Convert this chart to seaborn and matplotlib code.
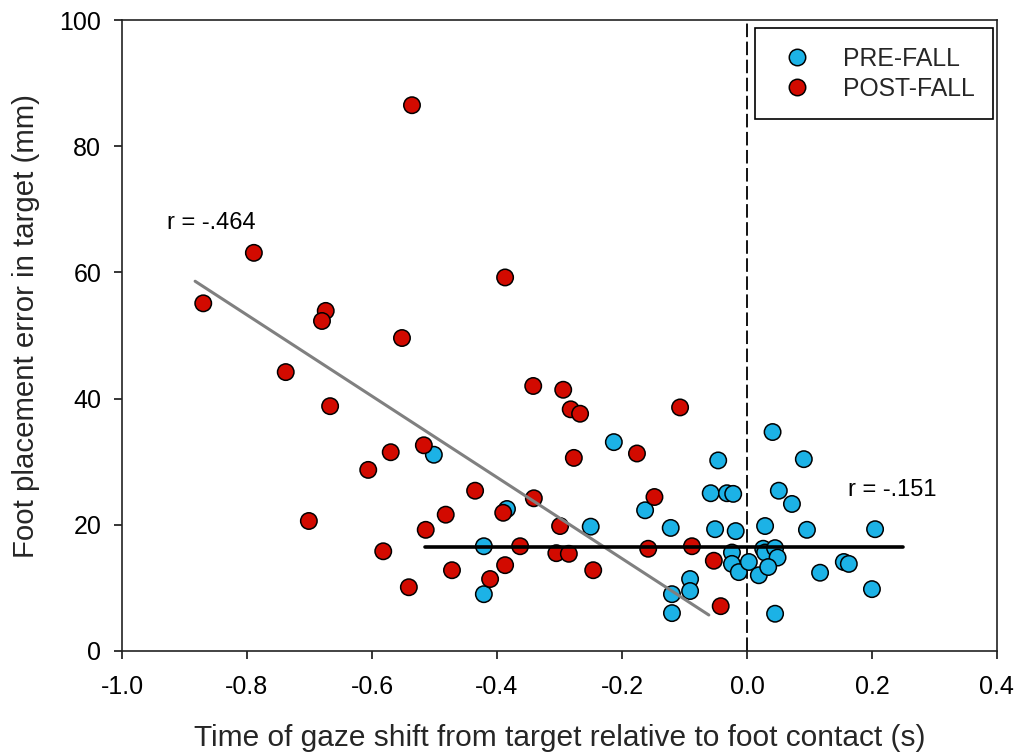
import numpy as np
import pandas as pd
import matplotlib
matplotlib.use("Agg")
import matplotlib.pyplot as plt
import seaborn as sns

# ---- data ----
pre_x = [-0.501, -0.384, -0.421, -0.421, -0.213, -0.046, 0.041, 0.091, -0.163, -0.058,
         -0.032, -0.022, 0.051, 0.072, -0.250, -0.122, -0.051, -0.018, 0.029, 0.096,
         0.205, -0.024, -0.024, -0.013, 0.003, 0.019, 0.026, 0.029, 0.045, 0.049,
         0.034, 0.117, 0.155, 0.163, 0.200, -0.091, -0.091, -0.120, -0.120, 0.045]
pre_y = [31.1, 22.5, 16.6, 9.0, 33.1, 30.2, 34.7, 30.4, 22.3, 25.0,
         25.0, 24.9, 25.4, 23.3, 19.7, 19.5, 19.3, 19.0, 19.8, 19.2,
         19.3, 15.6, 13.8, 12.5, 14.1, 12.0, 16.2, 15.6, 16.3, 14.8,
         13.3, 12.4, 14.1, 13.8, 9.8, 11.4, 9.5, 9.0, 6.0, 5.9]

post_x = [-0.536, -0.789, -0.870, -0.674, -0.680, -0.387, -0.552, -0.738, -0.342, -0.294,
          -0.282, -0.267, -0.107, -0.667, -0.517, -0.570, -0.606, -0.176, -0.277, -0.435,
          -0.341, -0.148, -0.390, -0.482, -0.701, -0.514, -0.299, -0.363, -0.582, -0.158,
          -0.088, -0.305, -0.285, -0.472, -0.387, -0.411, -0.541, -0.246, -0.053, -0.042]
post_y = [86.5, 63.1, 55.1, 53.9, 52.3, 59.2, 49.6, 44.2, 42.0, 41.4,
          38.3, 37.6, 38.6, 38.8, 32.6, 31.5, 28.7, 31.3, 30.6, 25.4,
          24.2, 24.4, 21.9, 21.6, 20.6, 19.2, 19.8, 16.6, 15.8, 16.2,
          16.6, 15.5, 15.4, 12.8, 13.6, 11.4, 10.1, 12.8, 14.3, 7.1]

groups = ["PRE-FALL", "POST-FALL"]
group_colors = ["#1CB2E6", "#D20A00"]

# fitted trend lines (end points)
post_fit_x = [-0.883, -0.061]
post_fit_y = [58.6, 5.7]
pre_fit_x = [-0.515, 0.25]
pre_fit_y = [16.5, 16.5]

r_labels = ["r = -.464", "r = -.151"]
r_x = [-0.928, 0.162]
r_y = [67.8, 25.5]

x_ticks = [-1.0, -0.8, -0.6, -0.4, -0.2, 0.0, 0.2, 0.4]
y_ticks = [0, 20, 40, 60, 80, 100]
x_label = "Time of gaze shift from target relative to foot contact (s)"
y_label = "Foot placement error in target (mm)"

df = pd.DataFrame({
    "x": pre_x + post_x,
    "y": pre_y + post_y,
    "group": [groups[0]] * len(pre_x) + [groups[1]] * len(post_x),
})

# ---- style ----
sns.set_style("ticks")
plt.rcParams["font.family"] = ["Liberation Sans", "DejaVu Sans"]

fig = plt.figure(figsize=(10.15, 7.53), dpi=100)
ax = fig.add_axes([0.1202, 0.1355, 0.862, 0.8379])

ax.axvline(0.0, color="black", lw=1.3, linestyle=(0, (7.5, 2.5)), zorder=1)

sns.scatterplot(data=df, x="x", y="y", hue="group", hue_order=groups,
                palette=group_colors, s=140, edgecolor="black", linewidth=1.1,
                ax=ax, zorder=3, legend=True)

sns.lineplot(x=post_fit_x, y=post_fit_y, ax=ax, color="#808080", lw=2.2,
             zorder=4, legend=False)
sns.lineplot(x=pre_fit_x, y=pre_fit_y, ax=ax, color="black", lw=2.6,
             zorder=4, legend=False)

for lab, tx, ty in zip(r_labels, r_x, r_y):
    ax.text(tx, ty, lab, ha="left", va="center", fontsize=17, color="black")

ax.set_xlim(-1.0, 0.4)
ax.set_ylim(0, 100)
ax.set_xticks(x_ticks)
ax.set_xticklabels([f"{v:.1f}" for v in x_ticks])
ax.set_yticks(y_ticks)
ax.tick_params(axis="both", direction="out", length=6, width=1.1,
               labelsize=18, colors="black")
ax.tick_params(axis="x", pad=11)
ax.tick_params(axis="y", pad=9)
for sp in ax.spines.values():
    sp.set_visible(True)
    sp.set_linewidth(1.2)
    sp.set_color("#222222")

ax.set_xlabel(x_label, fontsize=21.5, labelpad=18)
ax.set_ylabel(y_label, fontsize=21.2)
ax.yaxis.set_label_coords(-0.094, 0.515)

handles, labels = ax.get_legend_handles_labels()
leg = ax.legend(handles, labels, loc="upper right", bbox_to_anchor=(0.9955, 0.9873),
                frameon=True, fancybox=False,
                edgecolor="black", framealpha=1, fontsize=17.8,
                borderaxespad=0.0, borderpad=0.75, handletextpad=0.9,
                labelspacing=0.25, handlelength=1.9)
leg.get_frame().set_linewidth(1.2)

fig.savefig("out.png", dpi=100)
